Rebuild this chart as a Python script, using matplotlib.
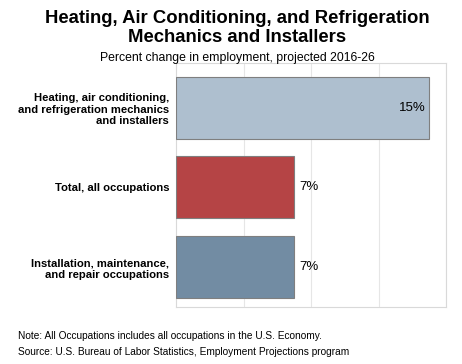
import matplotlib
matplotlib.use('Agg')
import matplotlib.pyplot as plt

plt.rcParams['font.family'] = ['Liberation Sans', 'DejaVu Sans']

categories = ['Heating, air conditioning,\nand refrigeration mechanics\nand installers',
              'Total, all occupations',
              'Installation, maintenance,\nand repair occupations']
values = [15, 7, 7]
colors = ['#aebfcf', '#b54445', '#728ca3']
value_labels = ['15%', '7%', '7%']

fig = plt.figure(figsize=(4.62, 3.64), dpi=100)
ax = fig.add_axes([176/462, 1-307/364, 270/462, 244/364])

ypos = range(len(values))
ax.barh(ypos, values, height=0.78, color=colors, edgecolor='#7f7f7f', linewidth=0.8, zorder=3)
ax.set_xlim(0, 16)
ax.set_ylim(2.5, -0.56)
ax.set_xticks([4, 8, 12, 16])
ax.set_xticklabels([])
ax.tick_params(length=0)
ax.grid(axis='x', color='#e6e6e6', linewidth=0.8, zorder=0)
for s in ax.spines.values():
    s.set_color('#d9d9d9')
    s.set_linewidth(0.8)
ax.set_yticks(list(ypos))
ax.set_yticklabels(categories, fontsize=8.1, fontweight='bold', linespacing=1.22)
ax.tick_params(axis='y', pad=5)

for i, v in enumerate(values):
    if v > 12:
        ax.text(v - 0.2, i, value_labels[i], ha='right', va='center', fontsize=9.5, zorder=4)
    else:
        ax.text(v + 0.3, i, value_labels[i], ha='left', va='center', fontsize=9.5, zorder=4)

fig.text(237/462, 1-28/364, 'Heating, Air Conditioning, and Refrigeration\nMechanics and Installers',
         ha='center', va='center', fontsize=13.3, fontweight='bold', linespacing=1.22)
fig.text(237/462, 1-58/364, 'Percent change in employment, projected 2016-26', ha='center', va='center', fontsize=8.8)
fig.text(18/462, 1-336/364, 'Note: All Occupations includes all occupations in the U.S. Economy.', ha='left', va='center', fontsize=7.3)
fig.text(18/462, 1-352/364, 'Source: U.S. Bureau of Labor Statistics, Employment Projections program', ha='left', va='center', fontsize=7.3)

plt.savefig('out.png', dpi=100)
